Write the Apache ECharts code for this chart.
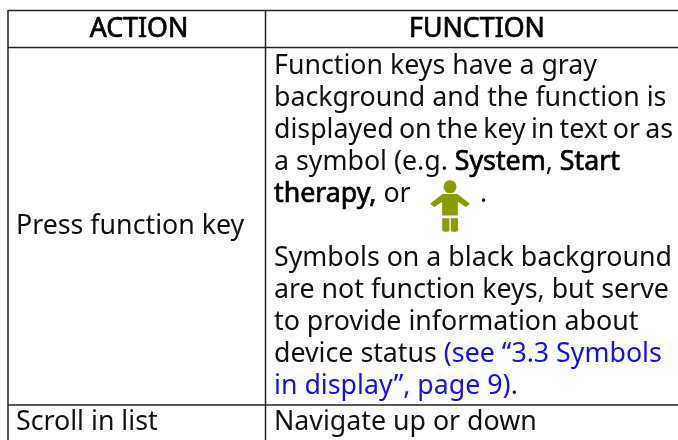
<!DOCTYPE html>
<html><head><meta charset="utf-8">
<style>html,body{margin:0;padding:0;background:#fff}#c{width:678px;height:440px}</style>
<script src="https://cdn.jsdelivr.net/npm/echarts@6/dist/echarts.min.js"></script>
</head><body><div id="c"></div>
<script>
const headers = ['ACTION', 'FUNCTION'];
const actions = ['Press function key', 'Scroll in list'];
const functionLines = [
  [['Function keys have a gray', 'n']],
  [['background and the function is', 'n']],
  [['displayed on the key in text or as', 'n']],
  [['a symbol (e.g. ', 'n'], ['System', 'b'], [', ', 'n'], ['Start', 'b']],
  [['therapy,', 'b'], [' or', 'n']],
  [],
  [['Symbols on a black background', 'n']],
  [['are not function keys, but serve', 'n']],
  [['to provide information about', 'n']],
  [['device status ', 'n'], ['(see \u201C3.3 Symbols', 'l']],
  [['in display\u201D, page 9)', 'l'], ['.', 'n']]
];
const scrollFunction = 'Navigate up or down';

const FONT = '"Noto Sans"', SIZE = 26.75, INK = '#111', LINK = '#1010f0', OLIVE = '#8a9a00', RULE = '#222';
const ctx = document.createElement('canvas').getContext('2d');
ctx.font = SIZE + 'px ' + FONT;
const g = [];
function txt(s, x, y, kind, align) {
  g.push({type:'text', z:2, style:{
    text:s, x, y, font: SIZE + 'px ' + FONT,
    fill: kind === 'l' ? LINK : (kind === 'b' ? '#000' : INK),
    stroke: kind === 'b' ? '#000' : null, lineWidth: kind === 'b' ? 0.7 : 0,
    textAlign: align || 'left', textVerticalAlign:'middle'
  }});
}
function line(x1,y1,x2,y2){ g.push({type:'line', z:1, shape:{x1,y1,x2,y2}, style:{stroke:RULE, lineWidth:1.5}}); }
line(8,10.5,678,10.5); line(8,47.5,678,47.5); line(8,405,678,405);
line(8,10,8,440); line(265.5,10,265.5,440);
const Y0 = 1.5;
txt(headers[0],139,28+Y0-0.5,'b','center'); txt(headers[1],477,28+Y0-0.5,'b','center');
txt(actions[0],16,225+Y0,'n'); txt(actions[1],16,421+Y0,'n');
functionLines.forEach((runs,i)=>{
  let x = 274; const y = 65 + Y0 + 32*i;
  runs.forEach(([s,k])=>{
    if (i === 2) {
      // this line is set tight in the original: narrower word gaps to fit the cell
      const words = s.split(' ');
      const trim = (ctx.measureText(s).width - 399) / (words.length - 1);
      const sp = ctx.measureText(' ').width - trim;
      words.forEach(w=>{ txt(w,x,y,k); x += ctx.measureText(w).width + sp; });
    } else { txt(s,x,y,k); x += ctx.measureText(s).width; }
  });
});
txt('.',480,193+Y0,'n');
txt(scrollFunction,274,421+Y0,'n');
// person symbol
g.push({type:'circle', shape:{cx:450,cy:186.8,r:6.5}, style:{fill:OLIVE}});
g.push({type:'polygon', shape:{points:[[443,194.6],[457,194.6],[469,203.8],[465.8,206.4],[457.2,200.5],[457.2,215],[442.8,215],[442.8,200.5],[434.2,206.4],[431,203.8]]}, style:{fill:OLIVE, stroke:OLIVE, lineWidth:1.2, lineJoin:'round'}});
g.push({type:'rect', shape:{x:442.2,y:218.3,width:7.2,height:13.4,r:[0,0,2.5,2.5]}, style:{fill:OLIVE}});
g.push({type:'rect', shape:{x:450.8,y:218.3,width:7.2,height:13.4,r:[0,0,2.5,2.5]}, style:{fill:OLIVE}});
echarts.init(document.getElementById('c'),null,{renderer:'canvas'}).setOption({animation:false,backgroundColor:'#fff',graphic:{elements:g}});
</script></body></html>
